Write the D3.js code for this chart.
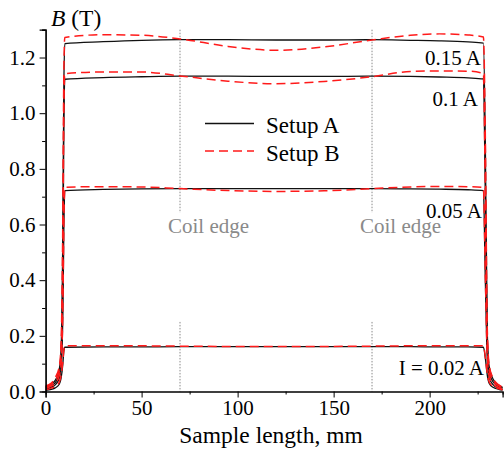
<!DOCTYPE html>
<html>
<head>
<meta charset="utf-8">
<script src="https://cdn.jsdelivr.net/npm/d3@7"></script>
<style>
  html, body { margin: 0; padding: 0; background: #fff; }
  svg text { font-family: "Liberation Serif", "Times New Roman", serif; }
</style>
</head>
<body>
<svg id="chart" width="504" height="450"></svg>
<script>
// Positions along the sample (mm) where the field was sampled
const positions = [0, 3, 5, 7, 8, 9, 9.5, 10, 30, 50, 70, 95, 120, 145, 170, 190, 205, 220, 228, 229, 230, 231, 233, 236, 238];

// Flux density B (T), Setup A
const setupA_002 = [0.004, 0.008, 0.013, 0.025, 0.045, 0.10, 0.145, 0.159, 0.160, 0.160, 0.161, 0.161, 0.161, 0.161, 0.161, 0.161, 0.160, 0.160, 0.159, 0.12, 0.06, 0.03, 0.015, 0.008, 0.005];
const setupA_005 = [0.008, 0.015, 0.024, 0.045, 0.08, 0.28, 0.58, 0.722, 0.726, 0.728, 0.729, 0.729, 0.729, 0.729, 0.729, 0.728, 0.727, 0.725, 0.722, 0.40, 0.12, 0.05, 0.025, 0.012, 0.008];
const setupA_010 = [0.012, 0.02, 0.032, 0.06, 0.11, 0.45, 0.95, 1.122, 1.128, 1.131, 1.133, 1.133, 1.132, 1.132, 1.133, 1.132, 1.130, 1.127, 1.123, 0.70, 0.18, 0.07, 0.035, 0.018, 0.012];
const setupA_015 = [0.016, 0.026, 0.04, 0.075, 0.14, 0.6, 1.1, 1.250, 1.257, 1.262, 1.264, 1.264, 1.263, 1.263, 1.264, 1.262, 1.260, 1.256, 1.252, 0.90, 0.22, 0.09, 0.045, 0.022, 0.015];

// Flux density B (T), Setup B
const setupB_002 = [0.006, 0.012, 0.018, 0.032, 0.055, 0.11, 0.150, 0.164, 0.164, 0.164, 0.163, 0.162, 0.162, 0.162, 0.163, 0.164, 0.164, 0.164, 0.164, 0.125, 0.065, 0.035, 0.018, 0.010, 0.006];
const setupB_005 = [0.012, 0.02, 0.03, 0.055, 0.09, 0.30, 0.60, 0.734, 0.736, 0.735, 0.729, 0.722, 0.719, 0.721, 0.729, 0.735, 0.737, 0.736, 0.733, 0.42, 0.13, 0.055, 0.028, 0.014, 0.009];
const setupB_010 = [0.016, 0.026, 0.04, 0.07, 0.13, 0.5, 1.0, 1.142, 1.148, 1.148, 1.134, 1.115, 1.106, 1.114, 1.131, 1.150, 1.152, 1.151, 1.143, 0.72, 0.19, 0.075, 0.038, 0.02, 0.013];
const setupB_015 = [0.02, 0.03, 0.05, 0.085, 0.16, 0.65, 1.15, 1.272, 1.282, 1.280, 1.267, 1.240, 1.226, 1.238, 1.263, 1.280, 1.285, 1.281, 1.274, 0.92, 0.23, 0.095, 0.048, 0.024, 0.016];

const seriesNames = ["Setup A", "Setup B"];
const currentLabels = ["I = 0.02 A", "0.05 A", "0.1 A", "0.15 A"];
const coilEdges = [70, 170];
const coilLabel = "Coil edge";

const xMajorTicks = [0, 50, 100, 150, 200];
const xMinorTicks = [25, 75, 125, 175, 225];
const yMajorTicks = [0.0, 0.2, 0.4, 0.6, 0.8, 1.0, 1.2];
const yMinorTicks = [0.1, 0.3, 0.5, 0.7, 0.9, 1.1, 1.3];

const SERIF = "'Liberation Serif', 'Times New Roman', serif";
const svg = d3.select("#chart").attr("font-family", SERIF);

const x = d3.scaleLinear().domain([0, 238]).range([45.6, 502.6]);
const y = d3.scaleLinear().domain([0, 1.3]).range([391.5, 29.7]);

// coil edge markers (dotted, broken around the label)
const gCoil = svg.append("g");
coilEdges.forEach(c => {
  [[1.3, 0.642], [0.25, 0]].forEach(([a, b]) => {
    gCoil.append("line")
      .attr("x1", x(c)).attr("x2", x(c))
      .attr("y1", y(a)).attr("y2", y(b))
      .attr("stroke", "#8a8a8a").attr("stroke-width", 1)
      .attr("stroke-dasharray", "1.5,1.5");
  });
  gCoil.append("text")
    .attr("x", x(c) + 28.5).attr("y", 232.5)
    .attr("text-anchor", "middle")
    .attr("font-family", SERIF)
    .attr("font-size", 21).attr("fill", "#8a8a8a")
    .text(coilLabel);
});

// field profiles
const line = d3.line()
  .x((d, i) => x(positions[i]))
  .y(d => y(d))
  .curve(d3.curveMonotoneX);

const setA = [setupA_002, setupA_005, setupA_010, setupA_015];
const setB = [setupB_002, setupB_005, setupB_010, setupB_015];

const gLines = svg.append("g");
setA.forEach(vals => {
  gLines.append("path").attr("d", line(vals))
    .attr("fill", "none").attr("stroke", "#111").attr("stroke-width", 1.3);
});
setB.forEach(vals => {
  gLines.append("path").attr("d", line(vals))
    .attr("fill", "none").attr("stroke", "#ff1a1a").attr("stroke-width", 1.5)
    .attr("stroke-dasharray", "9,5");
});

// axes
const xAxis = d3.axisBottom(x).tickValues(xMajorTicks).tickSize(6).tickPadding(3).tickFormat(d3.format("d"));
const xAxisMinor = d3.axisBottom(x).tickValues(xMinorTicks).tickSize(3).tickFormat("");
const yAxis = d3.axisLeft(y).tickValues(yMajorTicks).tickSize(6).tickPadding(4).tickFormat(d3.format(".1f"));
const yAxisMinor = d3.axisLeft(y).tickValues(yMinorTicks).tickSize(3.5).tickFormat("");

function styleAxis(g) {
  g.attr("font-family", SERIF).attr("font-size", 21);
  g.select(".domain").attr("stroke", "#000").attr("stroke-width", 1.2);
  g.selectAll(".tick line").attr("stroke", "#000").attr("stroke-width", 1);
  g.selectAll(".tick text").attr("font-size", 21).attr("fill", "#000")
    .attr("font-family", SERIF);
}

svg.append("g").attr("transform", `translate(0,${y(0)})`).call(xAxisMinor).call(styleAxis);
svg.append("g").attr("transform", `translate(0,${y(0)})`).call(xAxis).call(styleAxis);
svg.append("g").attr("transform", `translate(${x(0)},0)`).call(yAxisMinor).call(styleAxis);
svg.append("g").attr("transform", `translate(${x(0)},0)`).call(yAxis).call(styleAxis);

// axis titles
svg.append("text")
  .attr("x", 271).attr("y", 443)
  .attr("text-anchor", "middle").attr("font-size", 23.5)
  .attr("font-family", SERIF)
  .text("Sample length, mm");

const yt = svg.append("text").attr("x", 51).attr("y", 26).attr("font-size", 23.5).attr("font-family", SERIF);
yt.append("tspan").attr("font-style", "italic").text("B");
yt.append("tspan").text(" (T)");

// current labels
const labelLayout = [
  { x: 484, y: 375 },
  { x: 482, y: 218 },
  { x: 478, y: 106 },
  { x: 481, y: 65 }
];
currentLabels.forEach((t, i) => {
  svg.append("text")
    .attr("x", labelLayout[i].x).attr("y", labelLayout[i].y)
    .attr("text-anchor", "end").attr("font-size", 21)
    .attr("font-family", SERIF)
    .text(t);
});

// legend
const legend = svg.append("g");
const legendRows = [
  { y: 123.5, stroke: "#111", dash: null, width: 1.3 },
  { y: 151, stroke: "#ff1a1a", dash: "9,5", width: 1.5 }
];
seriesNames.forEach((name, i) => {
  const r = legendRows[i];
  const l = legend.append("line")
    .attr("x1", 205).attr("x2", 254)
    .attr("y1", r.y).attr("y2", r.y)
    .attr("stroke", r.stroke).attr("stroke-width", r.width);
  if (r.dash) l.attr("stroke-dasharray", r.dash);
  legend.append("text")
    .attr("x", 266).attr("y", r.y + 9.5)
    .attr("font-size", 23)
    .attr("font-family", SERIF)
    .text(name);
});
</script>
</body>
</html>
